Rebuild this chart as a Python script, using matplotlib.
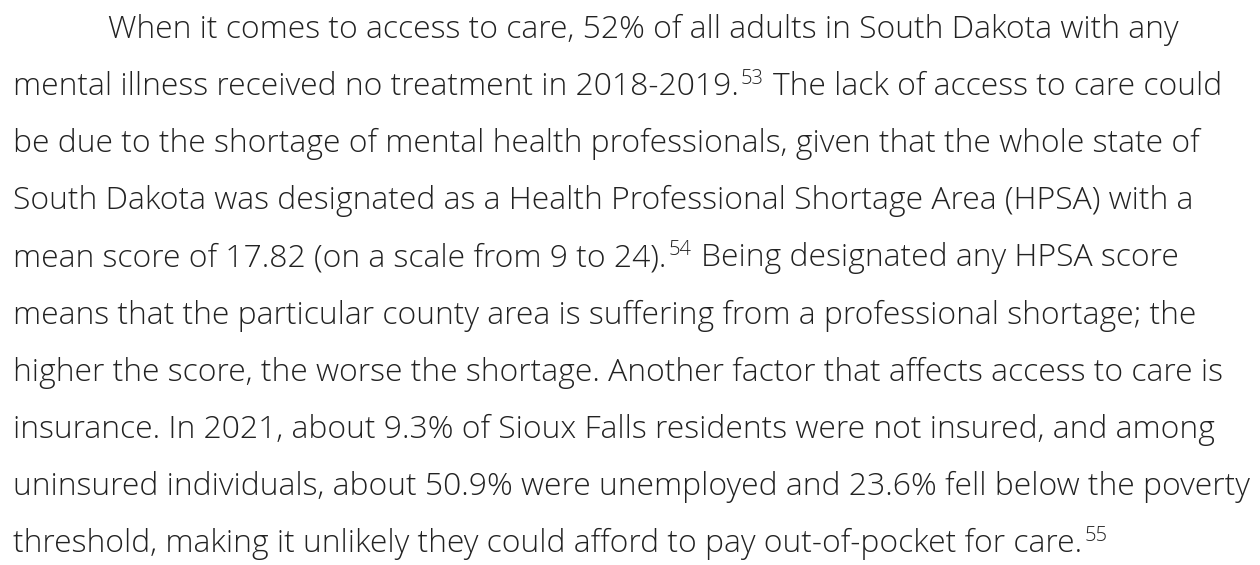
import matplotlib
matplotlib.use("Agg")
import matplotlib.pyplot as plt

W, H = 1260, 565
DPI = 100

# Paragraph lines; each line is a list of (text, is_superscript) segments
lines = [
    [("When it comes to access to care, 52% of all adults in South Dakota with any", False)],
    [("mental illness received no treatment in 2018-2019.", False), ("53", True),
     (" The lack of access to care could", False)],
    [("be due to the shortage of mental health professionals, given that the whole state of", False)],
    [("South Dakota was designated as a Health Professional Shortage Area (HPSA) with a", False)],
    [("mean score of 17.82 (on a scale from 9 to 24).", False), ("54", True),
     (" Being designated any HPSA score", False)],
    [("means that the particular county area is suffering from a professional shortage; the", False)],
    [("higher the score, the worse the shortage. Another factor that affects access to care is", False)],
    [("insurance. In 2021, about 9.3% of Sioux Falls residents were not insured, and among", False)],
    [("uninsured individuals, about 50.9% were unemployed and 23.6% fell below the poverty", False)],
    [("threshold, making it unlikely they could afford to pay out-of-pocket for care.", False), ("55", True)],
]
indents = [108, 13, 13, 13, 13, 13, 13, 13, 13, 13]

fam = "Open Sans"
size = 22.95
sup_size = 14.5
color = "#222222"
first_baseline = 37.5
line_gap = 57.2

fig = plt.figure(figsize=(W / DPI, H / DPI), dpi=DPI)
fig.patch.set_facecolor("white")
renderer = fig.canvas.get_renderer()

space_px = 0.26 * size * DPI / 72

for i, segs in enumerate(lines):
    x = indents[i]
    yb = first_baseline + i * line_gap
    for s, sup in segs:
        txt = s
        if txt.startswith(" "):
            x += space_px + 1
            txt = txt.lstrip(" ")
        if sup:
            x += 2
            t = fig.text(x / W, 1 - (yb - 11) / H, txt, fontsize=sup_size, family=fam,
                         fontweight="light", color=color, ha="left", va="baseline")
        else:
            t = fig.text(x / W, 1 - yb / H, txt, fontsize=size, family=fam,
                         fontweight="light", color=color, ha="left", va="baseline")
        bb = t.get_window_extent(renderer)
        x = bb.x1

fig.savefig("out.png", dpi=DPI, facecolor="white")
